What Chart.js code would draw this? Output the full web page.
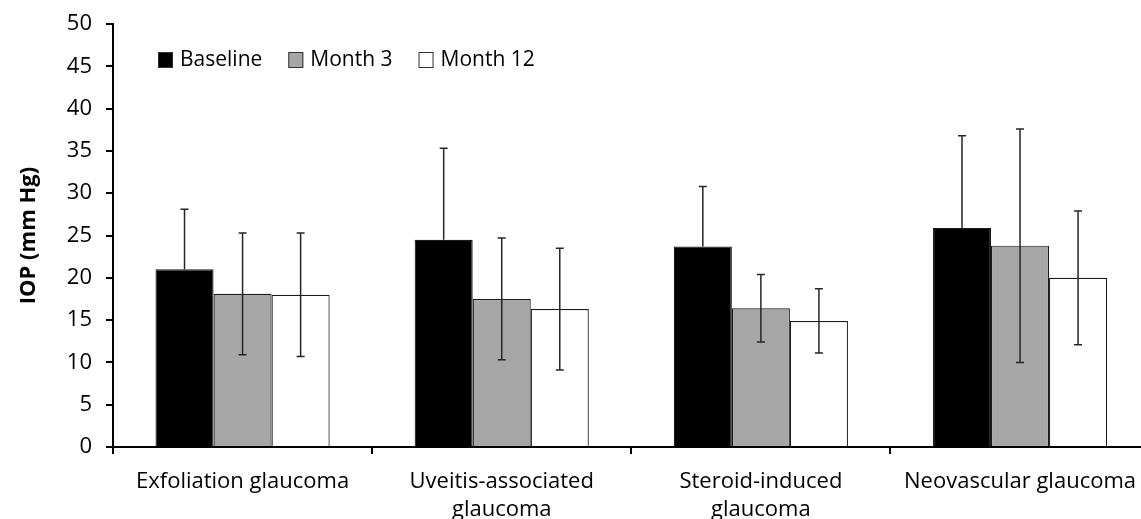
<!DOCTYPE html>
<html>
<head>
<meta charset="utf-8">
<script src="https://cdn.jsdelivr.net/npm/chart.js@4"></script>
<style>
  html, body { margin: 0; padding: 0; background: #fff; overflow: hidden; }
  #wrap { width: 1150px; height: 519px; }
</style>
</head>
<body>
<div id="wrap"><canvas id="chart"></canvas></div>
<script>
var categories = [
  'Exfoliation glaucoma',
  ['Uveitis-associated', 'glaucoma'],
  ['Steroid-induced', 'glaucoma'],
  'Neovascular glaucoma'
];
var seriesNames = ['Baseline', 'Month 3', 'Month 12'];
var baseline = [21.0, 24.5, 23.7, 25.9];
var baselineSd = [7.1, 10.8, 7.1, 10.9];
var month3 = [18.1, 17.5, 16.4, 23.8];
var month3Sd = [7.2, 7.2, 4.0, 13.8];
var month12 = [18.0, 16.3, 14.9, 20.0];
var month12Sd = [7.3, 7.2, 3.8, 7.9];
var yTicks = [0, 5, 10, 15, 20, 25, 30, 35, 40, 45, 50];

var fontFamily = "'Open Sans', 'Noto Sans', sans-serif";
var sds = [baselineSd, month3Sd, month12Sd];
var showLower = [false, true, true]; // lower whisker of baseline sits inside the black bar

// error bars drawn off the y scale
var errorBars = {
  id: 'errorBars',
  afterDatasetsDraw: function(chart) {
    var ctx = chart.ctx;
    var y = chart.scales.y;
    ctx.save();
    ctx.strokeStyle = '#262626';
    ctx.lineWidth = 1.5;
    chart.data.datasets.forEach(function(ds, d) {
      var meta = chart.getDatasetMeta(d);
      meta.data.forEach(function(bar, i) {
        var v = ds.data[i];
        var sd = sds[d][i];
        var top = y.getPixelForValue(v + sd);
        var bot = showLower[d] ? y.getPixelForValue(v - sd) : bar.y;
        ctx.beginPath();
        ctx.moveTo(bar.x, top);
        ctx.lineTo(bar.x, bot);
        ctx.moveTo(bar.x - 4, top);
        ctx.lineTo(bar.x + 4, top);
        if (showLower[d]) {
          ctx.moveTo(bar.x - 4, bot);
          ctx.lineTo(bar.x + 4, bot);
        }
        ctx.stroke();
      });
    });
    ctx.restore();
  }
};

// legend inside the plot, top left
var insideLegend = {
  id: 'insideLegend',
  afterDraw: function(chart) {
    var ctx = chart.ctx;
    var x = chart.chartArea.left + 45;
    var yc = 60;
    ctx.save();
    ctx.font = '21px ' + fontFamily;
    ctx.textBaseline = 'middle';
    chart.data.datasets.forEach(function(ds) {
      ctx.fillStyle = ds.backgroundColor;
      ctx.fillRect(x, yc - 8, 15, 16);
      ctx.strokeStyle = '#333';
      ctx.lineWidth = 1;
      ctx.strokeRect(x + 0.5, yc - 7.5, 14, 15);
      ctx.fillStyle = '#000';
      ctx.fillText(ds.label, x + 22, yc);
      x += 22 + ctx.measureText(ds.label).width + 26;
    });
    ctx.restore();
  }
};

var makeSet = function(label, data, color) {
  return {
    label: label,
    data: data,
    backgroundColor: color,
    borderColor: '#1a1a1a',
    borderWidth: 1.2,
    barPercentage: 1,
    categoryPercentage: 0.672
  };
};

new Chart(document.getElementById('chart').getContext('2d'), {
  type: 'bar',
  data: {
    labels: categories,
    datasets: [
      makeSet(seriesNames[0], baseline, '#000000'),
      makeSet(seriesNames[1], month3, '#a6a6a6'),
      makeSet(seriesNames[2], month12, '#ffffff')
    ]
  },
  plugins: [errorBars, insideLegend],
  options: {
    responsive: true,
    maintainAspectRatio: false,
    animation: false,
    layout: { padding: { top: 24, right: 0, left: 0, bottom: 0 } },
    plugins: {
      legend: { display: false },
      tooltip: { enabled: false }
    },
    scales: {
      x: {
        grid: { drawOnChartArea: false, drawTicks: true, tickLength: 7, color: '#000', lineWidth: 2, offset: true },
        border: { color: '#000', width: 2 },
        ticks: { color: '#000', font: { family: fontFamily, size: 22, lineHeight: 1.25 }, maxRotation: 0, padding: 14 },
        afterFit: function(s) { s.height = 72; }
      },
      y: {
        min: 0,
        max: 50,
        afterBuildTicks: function(s) { s.ticks = yTicks.map(function(v) { return { value: v }; }); },
        grid: { drawOnChartArea: false, drawTicks: true, tickLength: 7, color: '#000', lineWidth: 2 },
        border: { color: '#000', width: 2 },
        ticks: { color: '#000', font: { family: fontFamily, size: 22 }, padding: 14 },
        title: { display: true, text: 'IOP (mm Hg)', color: '#000', font: { family: fontFamily, size: 22, weight: 'bold' }, padding: { top: 16, bottom: 0 } },
        afterFit: function(s) {
          s.width = 113;
          s.paddingTop = 0;
          s.paddingBottom = 0;
        }
      }
    }
  }
});
</script>
</body>
</html>
